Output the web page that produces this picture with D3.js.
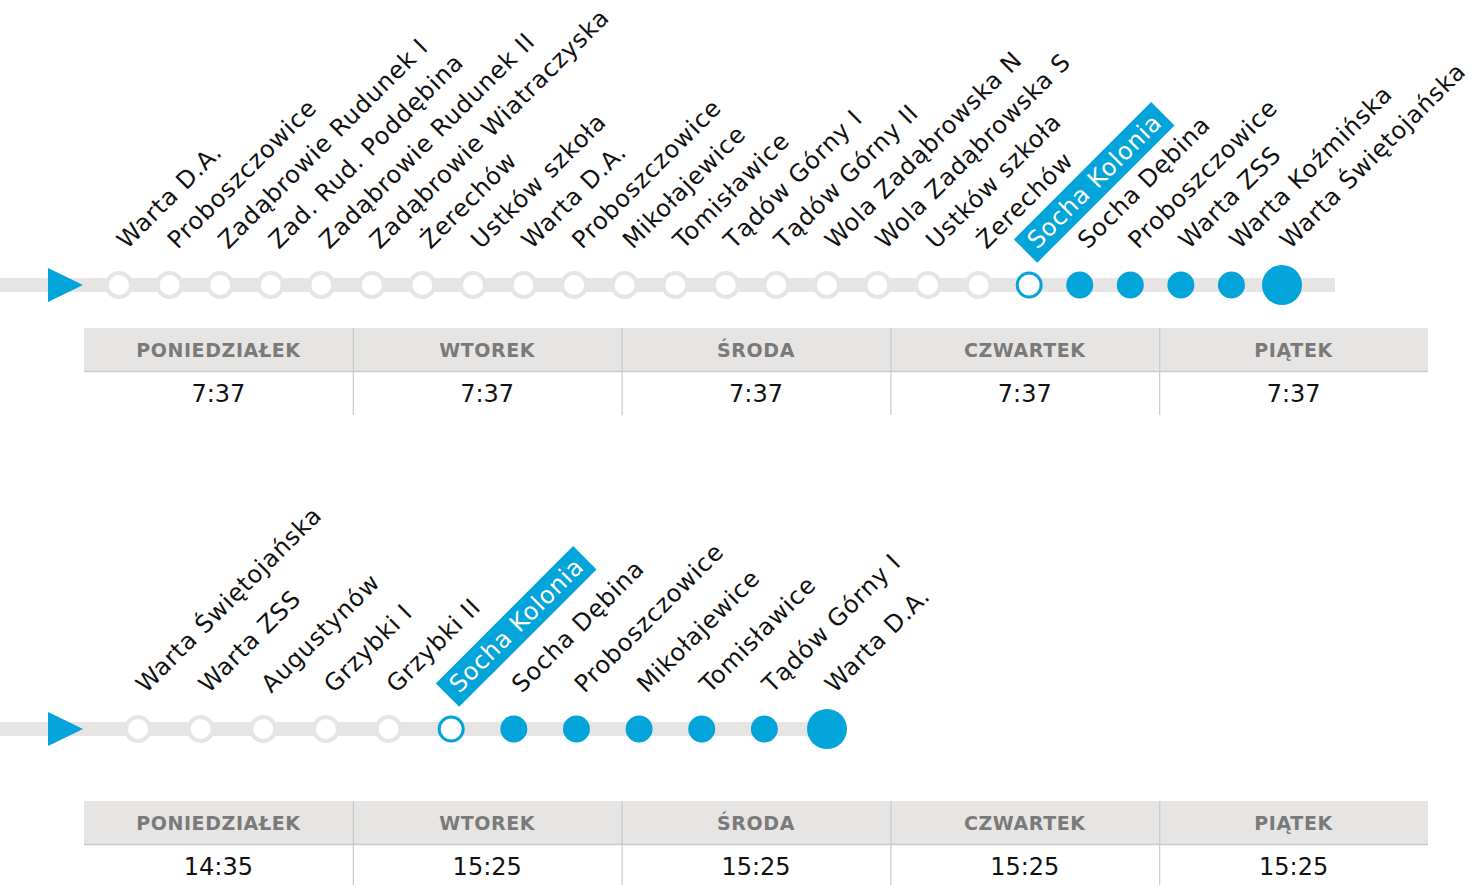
<!DOCTYPE html>
<html>
<head>
<meta charset="utf-8">
<script src="https://cdn.jsdelivr.net/npm/d3@7"></script>
<style>
  body { margin: 0; background: #fff; }
  svg { display: block; font-family: "DejaVu Sans", "Open Sans", sans-serif; }
</style>
</head>
<body>
<svg id="chart" width="1482" height="885"></svg>
<script>
// route 1 (morning)
var stops1 = ["Warta D.A.", "Proboszczowice", "Zadąbrowie Rudunek I", "Zad. Rud. Poddębina",
    "Zadąbrowie Rudunek II", "Zadąbrowie Wiatraczyska", "Żerechów", "Ustków szkoła", "Warta D.A.",
    "Proboszczowice", "Mikołajewice", "Tomisławice", "Tądów Górny I", "Tądów Górny II",
    "Wola Zadąbrowska N", "Wola Zadąbrowska S", "Ustków szkoła", "Żerechów", "Socha Kolonia",
    "Socha Dębina", "Proboszczowice", "Warta ZSS", "Warta Koźmińska", "Warta Świętojańska"];
var current1 = 18;
var times1 = ["7:37", "7:37", "7:37", "7:37", "7:37"];

// route 2 (afternoon)
var stops2 = ["Warta Świętojańska", "Warta ZSS", "Augustynów", "Grzybki I", "Grzybki II",
    "Socha Kolonia", "Socha Dębina", "Proboszczowice", "Mikołajewice", "Tomisławice",
    "Tądów Górny I", "Warta D.A."];
var current2 = 5;
var times2 = ["14:35", "15:25", "15:25", "15:25", "15:25"];

var days = ["PONIEDZIAŁEK", "WTOREK", "ŚRODA", "CZWARTEK", "PIĄTEK"];

var blue = "#02a4d9",
    grey = "#e6e5e4",
    rule = "#c9c9c9";

var svg = d3.select("#chart");

function drawRoute(stops, current, lineY, x0, x1, lineEnd) {
    var g = svg.append("g");
    var x = d3.scalePoint()
        .domain(d3.range(stops.length))
        .range([x0, x1]);

    g.append("line")
        .attr("x1", 0)
        .attr("x2", lineEnd)
        .attr("y1", lineY)
        .attr("y2", lineY)
        .attr("stroke", grey)
        .attr("stroke-width", 14);

    g.append("path")
        .attr("d", "M48," + (lineY - 17) + "L83," + lineY + "L48," + (lineY + 17) + "Z")
        .attr("fill", blue);

    var last = stops.length - 1;
    g.selectAll("circle.stop")
        .data(stops)
        .enter().append("circle")
        .attr("class", "stop")
        .attr("cx", function (d, i) { return x(i); })
        .attr("cy", lineY)
        .attr("r", function (d, i) {
            if (i === last) return 20;
            if (i > current) return 13.5;
            return 12;
        })
        .attr("fill", function (d, i) { return i > current ? blue : "#fff"; })
        .attr("stroke", function (d, i) {
            if (i > current) return "none";
            return i === current ? blue : grey;
        })
        .attr("stroke-width", function (d, i) { return i === current ? 3 : 4; });

    var labels = g.selectAll("g.label")
        .data(stops)
        .enter().append("g")
        .attr("class", "label")
        .attr("transform", function (d, i) {
            return "translate(" + (x(i) + 8) + "," + (lineY - 35) + ") rotate(-45)";
        });

    labels.each(function (d, i) {
        var el = d3.select(this);
        var t = el.append("text")
            .attr("font-size", 24)
            .attr("letter-spacing", 0.8)
            .attr("fill", i === current ? "#fff" : "#111")
            .text(d);
        if (i === current) {
            var b = t.node().getBBox();
            el.insert("rect", "text")
                .attr("x", b.x - 9)
                .attr("y", b.y - 2)
                .attr("width", b.width + 16)
                .attr("height", b.height + 5)
                .attr("fill", blue);
        }
    });
}

function drawTable(times, top) {
    var g = svg.append("g");
    var col = d3.scaleBand()
        .domain(days)
        .range([84, 1428]);
    var headH = 43, rowH = 43;

    g.append("rect")
        .attr("x", 84)
        .attr("y", top)
        .attr("width", 1428 - 84)
        .attr("height", headH)
        .attr("fill", grey);

    g.append("line")
        .attr("x1", 84).attr("x2", 1428)
        .attr("y1", top + headH + 0.5).attr("y2", top + headH + 0.5)
        .attr("stroke", rule)
        .attr("stroke-width", 1.5);

    g.selectAll("line.div")
        .data(days.slice(1))
        .enter().append("line")
        .attr("class", "div")
        .attr("x1", function (d) { return col(d) + 0.5; })
        .attr("x2", function (d) { return col(d) + 0.5; })
        .attr("y1", top)
        .attr("y2", top + headH + rowH + 1)
        .attr("stroke", rule)
        .attr("stroke-width", 1.2);

    g.selectAll("text.day")
        .data(days)
        .enter().append("text")
        .attr("class", "day")
        .attr("x", function (d) { return col(d) + col.bandwidth() / 2; })
        .attr("y", top + 29)
        .attr("text-anchor", "middle")
        .attr("font-size", 19)
        .attr("letter-spacing", 0.6)
        .attr("font-weight", "bold")
        .attr("fill", "#7a7a7a")
        .text(function (d) { return d; });

    g.selectAll("text.time")
        .data(times)
        .enter().append("text")
        .attr("class", "time")
        .attr("x", function (d, i) { return col(days[i]) + col.bandwidth() / 2; })
        .attr("y", top + headH + 31)
        .attr("text-anchor", "middle")
        .attr("font-size", 24)
        .attr("fill", "#111")
        .text(function (d) { return d; });
}

drawRoute(stops1, current1, 285, 119, 1282, 1335);
drawTable(times1, 328);
drawRoute(stops2, current2, 729, 138, 827, 827);
drawTable(times2, 801);
</script>
</body>
</html>
